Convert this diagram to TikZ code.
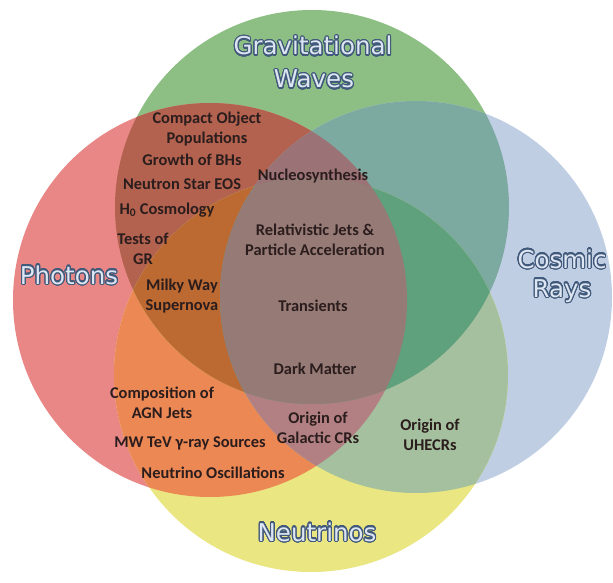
\documentclass[tikz,border=0pt]{standalone}
\usepackage{fontspec}
\setmainfont{Carlito}
\newfontfamily\labelfont{DejaVu Sans}
\usepackage[copies]{contour}
\contourlength{1.1pt}
\contournumber{32}
% single regions
\definecolor{cR}{HTML}{E98787}
\definecolor{cG}{HTML}{8DBF84}
\definecolor{cB}{HTML}{C0CEE4}
\definecolor{cY}{HTML}{EAE682}
% pairs
\definecolor{cRG}{HTML}{B2624E}
\definecolor{cRB}{HTML}{B48CA0}
\definecolor{cRY}{HTML}{EC8854}
\definecolor{cGB}{HTML}{7DAAA0}
\definecolor{cGY}{HTML}{AAC86E}
\definecolor{cBY}{HTML}{A5C09E}
% triples
\definecolor{cRGB}{HTML}{9B7376}
\definecolor{cRGY}{HTML}{BC6932}
\definecolor{cRBY}{HTML}{B28082}
\definecolor{cGBY}{HTML}{5FA07D}
% all
\definecolor{cRGBY}{HTML}{967A75}
\definecolor{txtcol}{HTML}{2B1D1D}
\definecolor{lblfill}{HTML}{DDE6F2}
\definecolor{lblline}{HTML}{41597A}
\begin{document}
\begin{tikzpicture}[x=1pt,y=-1pt,
  txt/.style={font=\bfseries\fontsize{16.4}{20.5}\selectfont, text=txtcol, align=center, inner sep=0pt},
  lbl/.style={font=\labelfont\fontsize{24.5}{29}\selectfont, text=lblfill, inner sep=0pt, anchor=base}]
\fill[white] (0,0) rectangle (613,583);
\useasboundingbox (0,0) rectangle (613,583);
\def\pR{(210,300) circle (197pt)}
\def\pG{(312,207) circle (197pt)}
\def\pB{(416,297) circle (196pt)}
\def\pY{(311,375) circle (197pt)}
% singles
\fill[cG] \pG;
\fill[cB] \pB;
\fill[cR] \pR;
\fill[cY] \pY;
% pairs
\begin{scope}\clip \pR; \fill[cRG] \pG;\end{scope}
\begin{scope}\clip \pR; \fill[cRB] \pB;\end{scope}
\begin{scope}\clip \pR; \fill[cRY] \pY;\end{scope}
\begin{scope}\clip \pG; \fill[cGB] \pB;\end{scope}
\begin{scope}\clip \pG; \fill[cGY] \pY;\end{scope}
\begin{scope}\clip \pB; \fill[cBY] \pY;\end{scope}
% triples
\begin{scope}\clip \pR; \clip \pG; \fill[cRGB] \pB;\end{scope}
\begin{scope}\clip \pR; \clip \pG; \fill[cRGY] \pY;\end{scope}
\begin{scope}\clip \pR; \clip \pB; \fill[cRBY] \pY;\end{scope}
\begin{scope}\clip \pG; \clip \pB; \fill[cGBY] \pY;\end{scope}
% all four
\begin{scope}\clip \pR; \clip \pG; \clip \pB; \fill[cRGBY] \pY;\end{scope}
% labels
\node[lbl] (lgw1) at (313,55) {\contour{lblline}{Gravitational}};
\node[lbl] (lgw2) at (314,88) {\contour{lblline}{Waves}};
\node[lbl] (lph) at (69,284) {\contour{lblline}{Photons}};
\node[lbl] (lcr1) at (562,268) {\contour{lblline}{Cosmic}};
\node[lbl] (lcr2) at (562,297) {\contour{lblline}{Rays}};
\node[lbl] (lnu) at (317,541) {\contour{lblline}{Neutrinos}};
% topics
\node[txt] (t1) at (207,129) {Compact Object\\Populations};
\node[txt] (t2) at (192,160) {Growth of BHs};
\node[txt] (t3) at (182,184) {Neutron Star EOS};
\node[txt] (t4) at (167,210) {H\textsubscript{0} Cosmology};
\node[txt] (t5) at (143,249) {Tests of\\GR};
\node[txt] (t6) at (182,296) {Milky Way\\Supernova};
\node[txt] (t7) at (313,176) {Nucleosynthesis};
\node[txt] (t8) at (315,240) {Relativistic Jets \&\\Particle Acceleration};
\node[txt] (t9) at (313,306) {Transients};
\node[txt] (t10) at (315,369) {Dark Matter};
\node[txt] (t11) at (162,403) {Composition of\\AGN Jets};
\node[txt] (t12) at (190,443) {MW TeV γ-ray Sources};
\node[txt] (t13) at (318,428) {Origin of\\Galactic CRs};
\node[txt] (t14) at (430,435) {Origin of\\UHECRs};
\node[txt] (t15) at (213,473) {Neutrino Oscillations};
\end{tikzpicture}
\end{document}
